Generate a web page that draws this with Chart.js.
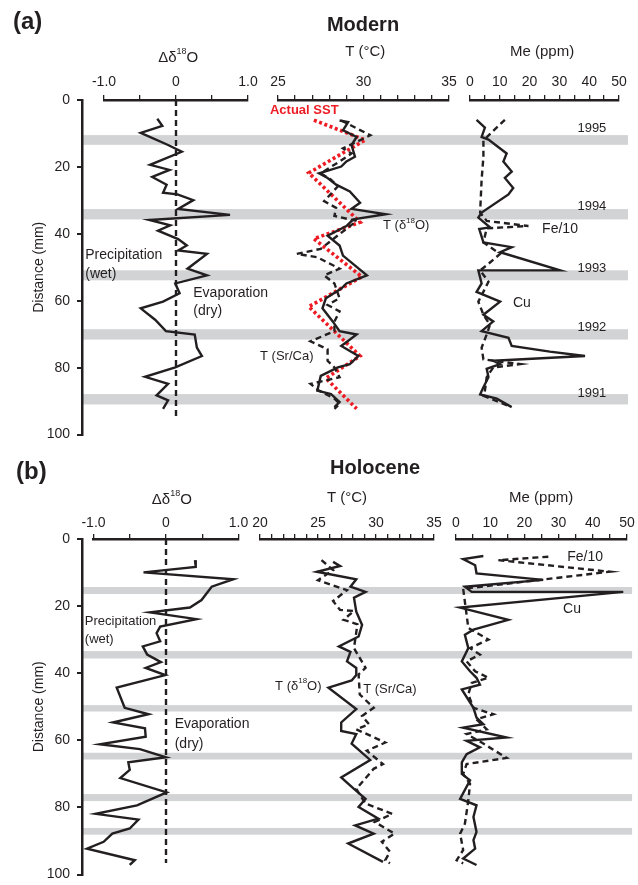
<!DOCTYPE html>
<html>
<head>
<meta charset="utf-8">
<title>Modern and Holocene records</title>
<script src="https://cdn.jsdelivr.net/npm/chart.js@4.4.1/dist/chart.umd.min.js"></script>
<style>
  body { margin: 0; background: #fff; }
  #page { position: relative; width: 638px; height: 885px; overflow: hidden;
          font-family: "Liberation Sans", Arial, Helvetica, sans-serif; color: #231f20; }
  .panel { position: absolute; left: 0; width: 638px; }
  .panel canvas { position: absolute; left: 0; top: 0; }
  .tag { position: absolute; font-size: 24px; font-weight: bold; }
  .head { position: absolute; font-size: 20px; font-weight: bold; transform: translateX(-50%); }
</style>
</head>
<body>
<div id="page">
  <div class="panel" id="panelA" style="top:0;height:450px"></div>
  <div class="panel" id="panelB" style="top:450px;height:440px"></div>
  <div class="tag" style="left:13px;top:7px">(a)</div>
  <div class="head" style="left:363px;top:13px">Modern</div>
  <div class="tag" style="left:16px;top:457px">(b)</div>
  <div class="head" style="left:375px;top:456px">Holocene</div>
</div>
<script>
// ---- data: (a) Modern ----
const modernBandStart = [10.5, 32.6, 50.9, 68.5, 87.9];
const modernBandEnd   = [13.4, 35.7, 53.9, 71.6, 91.0];
const modernYears = ['1995', '1994', '1993', '1992', '1991'];
const modernYearDepth = [8.5, 31.8, 50.0, 67.6, 87.4];

const modD18ODepth = [5.6, 7.7, 9.8, 13.4, 15.4, 19.3, 20.8, 22.9, 25.2, 27.6, 28.1, 29.8, 32.4, 34.2, 35.7, 37.3, 38.9, 41.4, 43.3, 44.8, 45.8, 50.2, 52.2, 54.6, 57.5, 60.0, 62.0, 65.4, 68.8, 69.8, 73.7, 76.2, 79.6, 82.4, 84.5, 87.9, 89.4, 91.9];
const modD18O      = [-0.26, -0.19, -0.49, -0.11, 0.08, -0.36, -0.09, -0.33, -0.13, -0.18, 0.02, 0.24, 0.03, 0.75, -0.37, -0.08, -0.25, 0.03, 0.15, 0.03, 0.43, 0.16, 0.43, -0.01, 0.05, -0.18, -0.49, -0.29, -0.14, 0.26, 0.29, 0.36, -0.01, -0.43, -0.11, -0.27, -0.11, -0.18];

const modTd18ODepth = [6.1, 6.6, 9.0, 11.0, 13.4, 16.9, 18.3, 19.8, 21.8, 23.2, 25.2, 27.2, 30.6, 32.4, 34.0, 35.5, 37.5, 40.4, 43.3, 46.3, 52.2, 54.6, 56.1, 59.0, 62.0, 65.9, 68.8, 69.8, 73.2, 76.2, 78.6, 79.6, 82.1, 86.5, 87.5, 89.9, 91.4];
const modTd18O      = [28.6, 29.1, 28.8, 29.6, 29.3, 29.5, 29.0, 28.7, 27.4, 27.9, 28.4, 29.2, 29.8, 29.3, 31.3, 29.4, 29.0, 27.9, 28.6, 28.8, 30.2, 29.0, 28.7, 27.8, 27.6, 28.2, 28.6, 29.6, 28.7, 29.7, 29.2, 28.5, 27.5, 27.3, 28.1, 28.6, 28.3];

const modTSrCaDepth = [6.1, 10.5, 14.4, 15.9, 18.3, 21.8, 23.7, 25.7, 30.1, 32.1, 34.5, 36.0, 39.9, 44.3, 45.8, 46.8, 50.2, 52.2, 54.6, 59.0, 61.0, 62.9, 65.9, 68.8, 71.8, 74.2, 77.6, 79.6, 82.5, 84.5, 86.5, 88.9, 90.4, 91.9];
const modTSrCa      = [28.7, 30.4, 28.8, 29.3, 28.6, 27.5, 28.1, 28.5, 27.7, 28.4, 28.3, 29.6, 28.6, 27.5, 26.1, 27.3, 28.6, 27.7, 28.3, 28.6, 27.9, 28.6, 28.3, 28.3, 26.9, 27.9, 27.9, 28.3, 28.6, 26.9, 27.4, 28.3, 28.6, 28.3];

const modSSTDepth = [6.0, 11.9, 21.7, 36.4, 41.3, 52.6, 61.5, 76.2, 82.8, 91.9];
const modSST      = [27.1, 30.1, 26.8, 29.8, 27.1, 29.9, 26.8, 29.8, 27.8, 29.6];

const modCuDepth = [5.9, 8.2, 11.0, 11.8, 15.9, 18.3, 21.3, 23.2, 26.2, 28.1, 33.5, 35.0, 37.9, 38.4, 42.4, 43.8, 45.3, 50.7, 50.7, 54.6, 57.1, 60.0, 63.9, 65.9, 68.8, 70.8, 73.2, 74.9, 76.2, 77.6, 78.6, 80.0, 82.5, 85.5, 87.6, 88.9, 91.4];
const modCu      = [2.2, 5.0, 3.9, 6.2, 12.3, 11.2, 14.0, 11.7, 14.5, 12.9, 3.9, 2.8, 6.7, 3.1, 4.5, 14.0, 10.1, 30.2, 2.8, 3.9, 2.2, 10.1, 4.5, 7.8, 3.9, 12.9, 14.0, 26.8, 38.6, 7.8, 10.1, 5.6, 6.2, 4.5, 3.4, 9.0, 14.0];

const modFeDepth = [5.9, 12.0, 16.9, 23.7, 33.5, 36.0, 37.5, 38.2, 42.4, 45.8, 49.2, 50.7, 54.1, 60.0, 63.9, 66.9, 69.8, 73.7, 77.2, 78.6, 79.6, 82.5, 86.5, 88.0, 91.0];
const modFe      = [11.7, 4.5, 4.5, 3.9, 3.4, 5.6, 19.6, 5.6, 4.5, 10.1, 5.6, 3.4, 6.2, 2.8, 4.5, 6.7, 5.6, 3.9, 4.5, 16.8, 7.8, 5.6, 5.0, 4.5, 12.9];

// ---- data: (b) Holocene ----
const holoBandStart = [14.3, 33.4, 49.5, 63.7, 76.0, 86.1];
const holoBandEnd   = [16.4, 35.6, 51.4, 65.7, 78.1, 88.1];

const holoD18ODepth = [6.2, 8.2, 9.8, 11.8, 14.0, 17.9, 20.1, 21.5, 23.5, 25.7, 27.6, 30.0, 31.5, 33.9, 36.1, 37.8, 39.9, 43.6, 49.5, 51.4, 53.8, 55.5, 58.0, 60.2, 61.6, 64.0, 65.5, 67.7, 70.1, 74.3, 78.1, 80.6, 82.3, 84.9, 86.4, 88.8, 90.8, 94.2, 95.6];
const holoD18O      = [0.40, 0.41, -0.31, 0.93, 0.63, 0.49, 0.33, -0.22, 0.42, -0.08, -0.13, -0.08, -0.32, -0.26, -0.07, -0.28, -0.01, -0.68, -0.57, -0.24, -0.73, -0.29, -0.28, -0.91, -0.36, 0.0, -0.52, -0.50, -0.63, 0.01, -0.40, -0.97, -0.38, -0.50, -0.74, -0.86, -1.09, -0.43, -0.50];

const holoTd18ODepth = [6.7, 7.9, 9.6, 11.8, 14.0, 15.5, 17.2, 21.3, 25.2, 28.6, 31.5, 33.1, 35.9, 37.8, 39.9, 41.5, 43.6, 49.9, 53.8, 56.3, 57.2, 60.0, 64.8, 69.9, 73.3, 76.2, 78.6, 82.0, 84.0, 86.4, 89.3, 94.7];
const holoTd18O      = [26.3, 26.9, 24.9, 28.3, 27.8, 29.1, 28.1, 28.3, 28.8, 28.5, 26.8, 27.8, 27.5, 28.3, 28.3, 27.9, 25.9, 28.3, 27.0, 27.0, 28.3, 27.9, 29.5, 27.0, 28.1, 29.1, 28.5, 30.2, 28.2, 29.8, 27.6, 30.6];

const holoTSrCaDepth = [6.2, 9.1, 12.1, 15.0, 18.2, 20.8, 21.1, 23.7, 25.0, 32.0, 37.8, 39.7, 45.6, 49.5, 51.9, 54.3, 55.8, 59.7, 62.1, 66.0, 67.4, 73.3, 77.6, 80.6, 83.0, 86.4, 88.8, 91.7, 94.2, 95.1];
const holoTSrCa      = [25.3, 26.3, 25.0, 27.5, 26.3, 26.9, 28.1, 27.2, 28.4, 28.1, 29.1, 28.5, 28.6, 29.8, 28.8, 29.4, 28.3, 30.8, 29.2, 30.6, 29.8, 28.3, 29.1, 31.4, 29.9, 31.6, 30.5, 31.2, 30.8, 31.2];

const holoCuDepth = [5.0, 5.9, 7.7, 10.1, 12.0, 14.0, 15.5, 15.5, 20.1, 23.7, 26.6, 28.1, 32.0, 35.9, 38.8, 40.7, 42.7, 44.1, 49.5, 52.4, 54.3, 55.3, 58.2, 59.2, 61.1, 63.1, 65.5, 68.9, 70.8, 76.2, 78.1, 81.5, 85.9, 88.3, 90.8, 93.7, 95.6];
const holoCu      = [8.0, 2.1, 5.6, 6.0, 25.5, 2.6, 4.6, 48.9, 1.2, 15.3, 5.1, 2.6, 3.6, 1.7, 4.1, 6.0, 7.0, 1.7, 5.1, 6.0, 8.0, 2.1, 14.8, 3.1, 7.0, 3.1, 1.7, 1.7, 4.1, 1.2, 6.0, 5.1, 6.0, 5.1, 5.6, 2.1, 6.0];

const holoFeDepth = [5.2, 6.2, 9.6, 14.6, 26.1, 29.5, 32.0, 33.9, 35.9, 38.8, 40.7, 42.2, 45.6, 49.5, 51.4, 52.9, 55.8, 57.2, 59.7, 64.2, 66.0, 68.9, 71.8, 76.7, 83.5, 86.4, 91.2, 94.2, 95.1];
const holoFe      = [27.0, 12.4, 45.0, 2.1, 3.6, 9.5, 4.1, 7.0, 3.1, 5.6, 9.5, 4.6, 3.6, 5.1, 10.9, 6.0, 9.0, 3.1, 7.5, 14.8, 3.1, 2.1, 4.1, 3.6, 2.6, 1.2, 2.1, 0.2, 2.1];

const zeroLineDepth = [0, 95];
const zeroLineValue = [0, 0];

// ---- axis ticks ----
const d18OTickValues = [-1, 0, 1];
const d18OTickLabels = ['-1.0', '0', '1.0'];
const tempTickValues = [20, 25, 30, 35];
const meTickValues = [0, 10, 20, 30, 40, 50];

// ---- styles ----
const INK = '#231f20';
const SST_RED = '#ed1c24';
const BAND_GREY = '#d1d3d4';
const FONT = '"Liberation Sans", Arial, Helvetica, sans-serif';

Chart.defaults.font.family = FONT;
Chart.defaults.font.size = 14;
Chart.defaults.color = INK;

function pts(depths, values) {
    return depths.map((d, i) => ({ x: values[i], y: d }));
}

function series(depths, values, style) {
    const ds = {
        data: pts(depths, values), showLine: true, pointRadius: 0, borderColor: INK,
        borderWidth: 2.4, fill: false, clip: false, tension: 0, borderJoinStyle: 'miter'
    };
    if (style === 'dash') ds.borderDash = [6, 4];
    if (style === 'red') Object.assign(ds, { borderColor: SST_RED, borderWidth: 3.6, borderDash: [3, 2.6] });
    return ds;
}

// text with ^NN superscripts
function drawRich(ctx, text, x, y, size, align, weight) {
    const parts = text.split(/(\^\d+)/).filter(Boolean);
    const big = `${weight} ${size}px ${FONT}`;
    const small = `${weight} ${Math.round(size * 0.6)}px ${FONT}`;
    let total = 0;
    const widths = parts.map(p => {
        const sup = p[0] === '^';
        ctx.font = sup ? small : big;
        const w = ctx.measureText(sup ? p.slice(1) : p).width;
        total += w;
        return w;
    });
    let cx = align === 'center' ? x - total / 2 : (align === 'right' ? x - total : x);
    ctx.textAlign = 'left';
    ctx.textBaseline = 'middle';
    parts.forEach((p, i) => {
        const sup = p[0] === '^';
        ctx.font = sup ? small : big;
        ctx.fillText(sup ? p.slice(1) : p, cx, sup ? y - size * 0.4 : y);
        cx += widths[i];
    });
}

const notesPlugin = {
    id: 'notes',
    afterDraw(chart, args, opts) {
        if (!opts.items) return;
        const { ctx } = chart;
        const xs = chart.scales.x, ys = chart.scales.y;
        ctx.save();
        opts.items.forEach(n => {
            ctx.fillStyle = n.color || INK;
            const px = xs.getPixelForValue(n.x);
            const py = n.py !== undefined ? n.py : ys.getPixelForValue(n.y);
            drawRich(ctx, n.text, px, py, n.size || 14, n.align || 'left', n.weight || 'normal');
        });
        ctx.restore();
    }
};

const bandsPlugin = {
    id: 'bands',
    beforeDraw(chart, args, opts) {
        if (!opts.start) return;
        const { ctx, chartArea } = chart;
        const ys = chart.scales.y;
        ctx.save();
        ctx.fillStyle = BAND_GREY;
        opts.start.forEach((a, i) => {
            const y1 = ys.getPixelForValue(a), y2 = ys.getPixelForValue(opts.end[i]);
            ctx.fillRect(chartArea.left + 1, y1, chartArea.right - chartArea.left - 1, y2 - y1);
        });
        ctx.restore();
    }
};

Chart.register(notesPlugin, bandsPlugin);

function xAxis(min, max, step, tickValues, tickLabels, pad) {
    return {
        type: 'linear', position: 'top', min, max,
        ticks: {
            stepSize: step, autoSkip: false, maxRotation: 0, padding: pad, color: INK,
            callback: v => {
                const k = tickValues.indexOf(v);
                return k < 0 ? '' : (tickLabels ? tickLabels[k] : String(v));
            }
        },
        grid: { display: true, drawOnChartArea: false, drawTicks: true, tickLength: 5, color: INK, lineWidth: 1.3 },
        border: { display: true, color: INK, width: 2.5 }
    };
}

function makeCanvas(panel, h) {
    const c = document.createElement('canvas');
    c.width = 638;
    c.height = h;
    panel.appendChild(c);
    return c;
}

// frame: distance axis + grey annual bands
function frameChart(panel, g, bandStart, bandEnd) {
    return new Chart(makeCanvas(panel, g.h), {
        type: 'scatter',
        data: { datasets: [] },
        options: {
            responsive: false, animation: false, events: [],
            layout: { padding: { top: g.top, bottom: g.bottom, left: 0, right: 638 - g.bandRight } },
            plugins: { legend: { display: false }, tooltip: { enabled: false }, bands: { start: bandStart, end: bandEnd } },
            scales: {
                x: {
                    type: 'linear', position: 'top', min: 0, max: 1,
                    ticks: { stepSize: 1, padding: g.tickPad, color: 'rgba(0,0,0,0)' },
                    grid: { display: true, drawOnChartArea: false, tickLength: 5, color: 'rgba(0,0,0,0)' },
                    border: { display: false }
                },
                y: {
                    type: 'linear', min: 0, max: 100, reverse: true,
                    ticks: { stepSize: 20, padding: 7, color: INK },
                    grid: { display: true, drawOnChartArea: false, tickLength: 5, lineWidth: 2, color: INK },
                    border: { display: true, width: 2.5, color: INK },
                    title: { display: true, text: 'Distance (mm)', color: INK, font: { size: 14 }, padding: { top: 31, bottom: 0 } },
                    afterFit: s => { s.width = 82; }
                }
            }
        }
    });
}

function columnChart(panel, g, area, xScale, datasets, notes) {
    return new Chart(makeCanvas(panel, g.h), {
        type: 'scatter',
        data: { datasets },
        options: {
            responsive: false, animation: false, events: [],
            layout: { padding: { top: g.top, bottom: g.bottom, left: area[0], right: 638 - area[1] } },
            plugins: { legend: { display: false }, tooltip: { enabled: false }, notes: { items: notes } },
            scales: { x: xScale, y: { display: false, min: 0, max: 100, reverse: true } }
        }
    });
}

// ---- panel (a) ----
const panelA = document.getElementById('panelA');
const geoA = { h: 450, top: 70.2, bottom: 14, tickPad: 4, bandRight: 628 };
frameChart(panelA, geoA, modernBandStart, modernBandEnd);

columnChart(panelA, geoA, [104, 248], xAxis(-1, 1, 0.5, d18OTickValues, d18OTickLabels, geoA.tickPad), [
    series(zeroLineDepth, zeroLineValue, 'dash'),
    series(modD18ODepth, modD18O, 'solid')
], [
    { text: 'Δδ^18O', x: 0.03, py: 58, align: 'center', size: 15 },
    { text: 'Precipitation', x: -1.26, y: 46.2 },
    { text: '(wet)', x: -1.26, y: 51.8 },
    { text: 'Evaporation', x: 0.24, y: 57.6 },
    { text: '(dry)', x: 0.24, y: 62.9 }
]);

columnChart(panelA, geoA, [278, 449], xAxis(25, 35, 1, tempTickValues, null, geoA.tickPad), [
    series(modTSrCaDepth, modTSrCa, 'dash'),
    series(modTd18ODepth, modTd18O, 'solid'),
    series(modSSTDepth, modSST, 'red')
], [
    { text: 'T (°C)', x: 30.1, py: 52, align: 'center', size: 15 },
    { text: 'Actual SST', x: 24.53, y: 3.0, color: SST_RED, weight: 'bold', size: 13 },
    { text: 'T (δ^18O)', x: 31.14, y: 37.4, size: 13 },
    { text: 'T (Sr/Ca)', x: 23.95, y: 76.2, size: 13 }
]);

columnChart(panelA, geoA, [470, 619], xAxis(0, 50, 5, meTickValues, null, geoA.tickPad), [
    series(modFeDepth, modFe, 'dash'),
    series(modCuDepth, modCu, 'solid')
], [
    { text: 'Me (ppm)', x: 24.2, py: 52, align: 'center', size: 15 },
    { text: 'Fe/10', x: 24.2, y: 38.5 },
    { text: 'Cu', x: 14.4, y: 60.6 }
].concat(modernYears.map((t, i) => ({ text: t, x: 40.9, y: modernYearDepth[i], align: 'center', size: 13 }))));

// ---- panel (b) ----
const panelB = document.getElementById('panelB');
const geoB = { h: 440, top: 63.2, bottom: 10, tickPad: 2, bandRight: 633 };
frameChart(panelB, geoB, holoBandStart, holoBandEnd);

columnChart(panelB, geoB, [93.5, 238.5], xAxis(-1, 1, 0.5, d18OTickValues, d18OTickLabels, geoB.tickPad), [
    series(zeroLineDepth, zeroLineValue, 'dash'),
    series(holoD18ODepth, holoD18O, 'solid')
], [
    { text: 'Δδ^18O', x: 0.08, py: 50, align: 'center', size: 15 },
    { text: 'Precipitation', x: -1.12, y: 24.2, size: 13 },
    { text: '(wet)', x: -1.12, y: 29.4, size: 13 },
    { text: 'Evaporation', x: 0.12, y: 54.2 },
    { text: '(dry)', x: 0.12, y: 60.1 }
]);

columnChart(panelB, geoB, [260, 434], xAxis(20, 35, 1, tempTickValues, null, geoB.tickPad), [
    series(holoTSrCaDepth, holoTSrCa, 'dash'),
    series(holoTd18ODepth, holoTd18O, 'solid')
], [
    { text: 'T (°C)', x: 27.5, py: 48, align: 'center', size: 15 },
    { text: 'T (δ^18O)', x: 21.3, y: 43.1, size: 13 },
    { text: 'T (Sr/Ca)', x: 28.9, y: 44.0, size: 13 }
]);

columnChart(panelB, geoB, [456, 627], xAxis(0, 50, 5, meTickValues, null, geoB.tickPad), [
    series(holoFeDepth, holoFe, 'dash'),
    series(holoCuDepth, holoCu, 'solid')
], [
    { text: 'Me (ppm)', x: 24.9, py: 48, align: 'center', size: 15 },
    { text: 'Fe/10', x: 32.5, y: 5.2 },
    { text: 'Cu', x: 31.3, y: 20.7 }
]);
</script>
</body>
</html>
